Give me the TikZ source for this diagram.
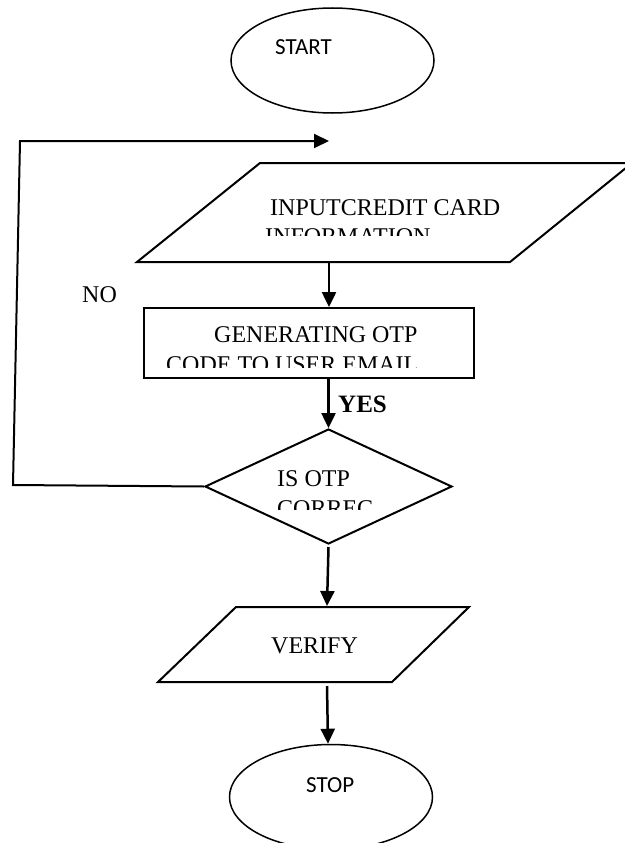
\documentclass[tikz,border=0pt]{standalone}
\usepackage{fontspec}
\setmainfont{Liberation Serif}
\newfontfamily\calibri{Carlito}
\usetikzlibrary{shapes.geometric,arrows.meta}
\begin{document}
\begin{tikzpicture}[x=1pt,y=-1pt,
  line/.style={line width=2pt,draw=black},
  arr/.style={line width=2.5pt,-{Triangle[width=14pt,length=15pt]}},
  term/.style={ellipse,draw,line width=1.5pt,minimum width=203pt,minimum height=105pt,inner sep=0pt},
  txt/.style={anchor=base west,inner sep=0pt,font=\fontsize{24}{28}\selectfont},
  ctxt/.style={anchor=base west,inner sep=0pt,font=\calibri\fontsize{23}{27}\selectfont}]
\useasboundingbox (0,0) rectangle (624,843);

% terminals
\node[term] (start) at (332.5,60.5) {};
\node[ctxt] (starttxt) at (275,55) {START};
\node[term] (stop) at (331,797) {};
\node[ctxt] (stoptxt) at (306,792) {STOP};

% input parallelogram
\coordinate (inBL) at (137,262);
\coordinate (inTL) at (260,163);
\coordinate (inTR) at (632,163);
\coordinate (inBR) at (510,262);
\draw[line] (inBL) -- (inTL) -- (inTR) -- (inBR) -- cycle;
\coordinate (inb) at (329,263);
\node[txt] (intxt1) at (270,215) {INPUTCREDIT CARD};
\begin{scope}
  \clip (140,170) rectangle (600,235);
  \node[txt] (intxt2) at (265,244) {INFORMATION};
\end{scope}

% generating rectangle
\node[draw,line width=2pt,minimum width=330pt,minimum height=70pt,inner sep=0pt] (gen) at (309,343) {};
\node[txt] (gentxt1) at (214,342) {GENERATING OTP};
\begin{scope}
  \clip (150,315) rectangle (470,367);
  \node[txt] (gentxt2) at (166,372) {CODE TO USER EMAIL};
\end{scope}

% decision diamond
\node[diamond,draw,line width=2pt,minimum width=247pt,minimum height=115pt,inner sep=0pt] (dec) at (328.5,486.5) {};
\node[txt] (dectxt1) at (277,486) {IS OTP};
\begin{scope}
  \clip (230,450) rectangle (430,509);
  \node[txt] (dectxt2) at (277,516) {CORREC};
\end{scope}

% verify parallelogram
\coordinate (vBL) at (158,682);
\coordinate (vTL) at (236,607);
\coordinate (vTR) at (469,607);
\coordinate (vBR) at (392,682);
\draw[line] (vBL) -- (vTL) -- (vTR) -- (vBR) -- cycle;
\coordinate (vtop) at (327,606);
\coordinate (vb) at (327,686);
\node[txt] (vertxt) at (271,653) {VERIFY};

% labels
\node[txt] (no) at (82,302) {NO};
\node[txt,font=\bfseries\fontsize{25}{29}\selectfont] (yes) at (338,412) {YES};

% connectors
\coordinate (loopbl) at (13,485);
\coordinate (looptl) at (20,141);
\coordinate (looptip) at (329,141);
\draw[line width=2pt,-{Triangle[width=14pt,length=15pt]}] (dec.west) -- (loopbl) -- (looptl) -- (looptip);
\draw[arr] (inb) -- (inb |- gen.north);
\draw[arr] (gen.south -| dec.north) -- (dec.north);
\draw[arr] ([yshift=-2pt]dec.south) -- (vtop);
\draw[arr] (vb) -- ([xshift=-3pt]stop.north);
\end{tikzpicture}
\end{document}
